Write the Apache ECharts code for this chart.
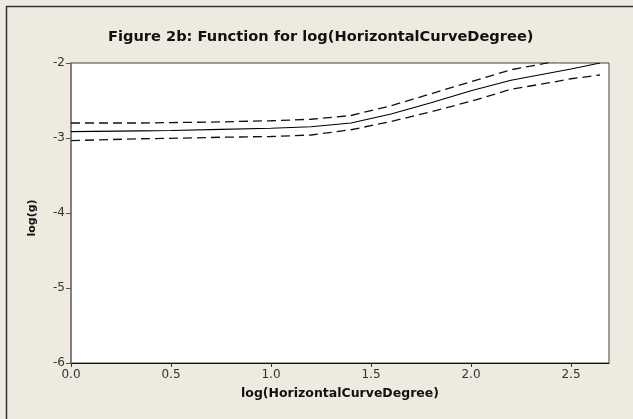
<!DOCTYPE html>
<html>
<head>
<meta charset="utf-8">
<script src="https://cdn.jsdelivr.net/npm/echarts@6/dist/echarts.min.js"></script>
<style>html,body{margin:0;padding:0;background:#EEEAE0;}#c{width:633px;height:419px;}</style>
</head>
<body>
<div id="c"></div>
<script>
var xs = [0, 0.35, 0.5, 0.75, 1.0, 1.2, 1.4, 1.6, 1.8, 2.0, 2.2, 2.4, 2.5, 2.645];
var fit = [-2.915, -2.905, -2.90, -2.885, -2.87, -2.85, -2.80, -2.68, -2.53, -2.37, -2.23, -2.13, -2.08, -2.0];
var upper = [-2.80, -2.80, -2.795, -2.785, -2.77, -2.75, -2.70, -2.57, -2.41, -2.25, -2.09, -1.99, -1.94, -1.88];
var lower = [-3.035, -3.01, -3.005, -2.99, -2.98, -2.96, -2.89, -2.78, -2.65, -2.51, -2.35, -2.26, -2.21, -2.16];
var xTicks = [0, 0.5, 1.0, 1.5, 2.0, 2.5];
var yTicks = [-6, -5, -4, -3, -2];

function pairs(a) { return xs.map(function (x, i) { return [x, a[i]]; }); }

var chart = echarts.init(document.getElementById('c'));
var font = 'DejaVu Sans';
chart.setOption({
  backgroundColor: '#EEEAE0',
  animation: false,
  title: {
    text: 'Figure 2b: Function for log(HorizontalCurveDegree)',
    left: 103, top: 25,
    textStyle: { fontFamily: font, fontSize: 14.6, fontWeight: 'bold', color: '#111' }
  },
  graphic: [{
    type: 'rect', shape: { x: 6.5, y: 6.5, width: 700, height: 500 },
    style: { fill: 'none', stroke: '#333', lineWidth: 1.5 }, silent: true
  }],
  grid: {
    left: 71, right: 24, top: 63, bottom: 56,
    show: true, backgroundColor: '#fff', borderColor: '#444', borderWidth: 1
  },
  xAxis: {
    type: 'value', min: 0, max: 2.69, interval: 0.5,
    name: 'log(HorizontalCurveDegree)', nameLocation: 'middle', nameGap: 24,
    nameTextStyle: { fontFamily: font, fontSize: 12.5, fontWeight: 'bold', color: '#111' },
    axisLine: { show: true, onZero: false, lineStyle: { color: '#111', width: 1 } },
    axisTick: { show: true, inside: false, length: 4, lineStyle: { color: '#333' } },
    axisLabel: { fontFamily: font, fontSize: 12, color: '#333', margin: 6, showMaxLabel: false,
      formatter: function (v) { return xTicks.indexOf(v) >= 0 ? v.toFixed(1) : ''; } },
    splitLine: { show: false }
  },
  yAxis: {
    type: 'value', min: -6, max: -2, interval: 1,
    name: 'log(g)', nameLocation: 'middle', nameGap: 33, nameRotate: 90,
    nameTextStyle: { fontFamily: font, fontSize: 11, fontWeight: 'bold', color: '#111', padding: [0, 0, 0, -10] },
    axisLine: { show: true, onZero: false, lineStyle: { color: '#808080', width: 2 } },
    axisTick: { show: true, inside: false, length: 5, lineStyle: { color: '#555' } },
    axisLabel: { fontFamily: font, fontSize: 12, color: '#333', margin: 6,
      formatter: function (v) { return yTicks.indexOf(v) >= 0 ? String(v) : ''; } },
    splitLine: { show: false }
  },
  series: [
    { type: 'line', data: pairs(fit), symbol: 'none', clip: true,
      lineStyle: { color: '#000', width: 1.2, type: 'solid' } },
    { type: 'line', data: pairs(upper), symbol: 'none', clip: true,
      lineStyle: { color: '#111', width: 1.3, type: [9, 5] } },
    { type: 'line', data: pairs(lower), symbol: 'none', clip: true,
      lineStyle: { color: '#111', width: 1.3, type: [9, 5] } }
  ]
});
</script>
</body>
</html>
